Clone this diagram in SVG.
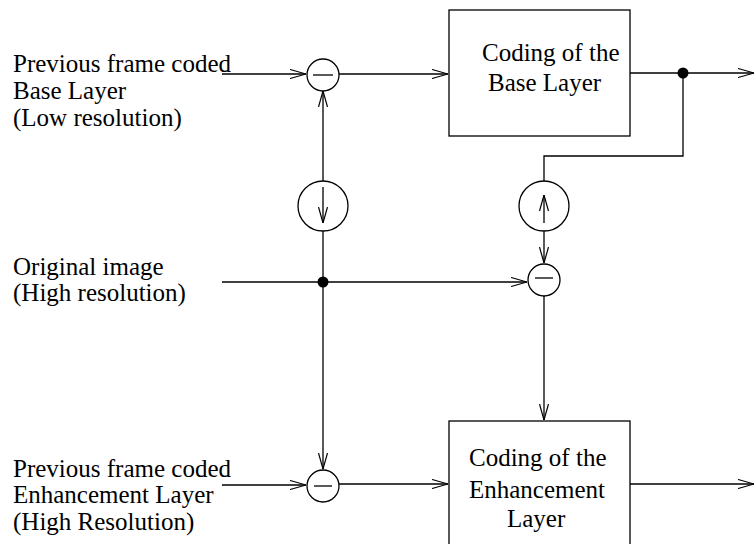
<svg xmlns="http://www.w3.org/2000/svg" width="755" height="544" viewBox="0 0 755 544">
  <defs>
    <marker id="arr" viewBox="0 0 16 10" refX="16" refY="5" markerWidth="16" markerHeight="10" markerUnits="userSpaceOnUse" orient="auto">
      <path d="M0,0.5 L16,5 L0,9.5" fill="none" stroke="#000" stroke-width="1.2"/>
    </marker>
    <style>
      .ln { fill: none; stroke: #000; stroke-width: 1.3; }
      .ar { fill: none; stroke: #000; stroke-width: 1.3; marker-end: url(#arr); }
      .op { fill: #fff; stroke: #000; stroke-width: 1.3; }
      .box { fill: #fff; stroke: #000; stroke-width: 1.3; }
      .dot { fill: #000; }
      text { font-family: "Liberation Serif", "Times New Roman", serif; font-size: 25px; fill: #000; }
    </style>
  </defs>
  <rect width="755" height="544" fill="#fff"/>

  <!-- input labels -->
  <g id="label-base">
    <text x="13" y="72">Previous frame coded</text>
    <text x="13" y="99">Base Layer</text>
    <text x="13" y="126">(Low resolution)</text>
  </g>
  <g id="label-original">
    <text x="13" y="275">Original image</text>
    <text x="13" y="301">(High resolution)</text>
  </g>
  <g id="label-enh">
    <text x="13" y="477">Previous frame coded</text>
    <text x="13" y="503">Enhancement Layer</text>
    <text x="13" y="530">(High Resolution)</text>
  </g>

  <!-- connectors -->
  <g id="connectors">
    <line class="ar" x1="222" y1="74" x2="306" y2="74"/>
    <line class="ar" x1="339" y1="74" x2="448" y2="74"/>
    <line class="ar" x1="630" y1="73" x2="754" y2="73"/>
    <polyline class="ln" points="683,73 683,156 544,156 544,181"/>
    <line class="ar" x1="323" y1="181" x2="323" y2="91"/>
    <line class="ar" x1="323" y1="231" x2="323" y2="469"/>
    <line class="ar" x1="222" y1="282" x2="527" y2="282"/>
    <line class="ar" x1="544" y1="231" x2="544" y2="263"/>
    <line class="ar" x1="544" y1="296" x2="544" y2="420"/>
    <line class="ar" x1="222" y1="485" x2="306" y2="485"/>
    <line class="ar" x1="339" y1="484" x2="448" y2="484"/>
    <line class="ar" x1="630" y1="484" x2="754" y2="484"/>
    <circle class="dot" cx="683" cy="73" r="5.5"/>
    <circle class="dot" cx="323" cy="282" r="5.5"/>
  </g>

  <!-- subtractors -->
  <g id="sub-base">
    <circle class="op" cx="323" cy="75" r="16"/>
    <line class="ln" x1="313" y1="75" x2="333" y2="75"/>
  </g>
  <g id="sub-residual">
    <circle class="op" cx="544" cy="280" r="16"/>
    <line class="ln" x1="535" y1="278" x2="553" y2="278"/>
  </g>
  <g id="sub-enh">
    <circle class="op" cx="323" cy="486" r="16"/>
    <line class="ln" x1="314" y1="486" x2="332" y2="486"/>
  </g>

  <!-- resampling -->
  <g id="downsample">
    <circle class="op" cx="323" cy="206" r="25"/>
    <line class="ar" x1="323" y1="187" x2="323" y2="223"/>
  </g>
  <g id="upsample">
    <circle class="op" cx="544" cy="206" r="25"/>
    <line class="ar" x1="544" y1="223" x2="544" y2="195"/>
  </g>

  <!-- coders -->
  <g id="coder-base">
    <rect class="box" x="449" y="10" width="181" height="126"/>
    <text x="482" y="61">Coding of the</text>
    <text x="488" y="91">Base Layer</text>
  </g>
  <g id="coder-enh">
    <rect class="box" x="449" y="421" width="181" height="140"/>
    <text x="469" y="466">Coding of the</text>
    <text x="469" y="498">Enhancement</text>
    <text x="507" y="527">Layer</text>
  </g>
</svg>
